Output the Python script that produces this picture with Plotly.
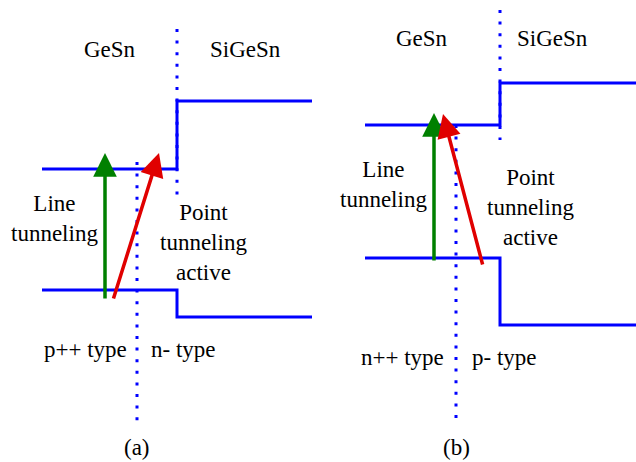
import plotly.graph_objects as go

# Coordinate frame: horizontal position / vertical (energy) position, y grows downward
# Panel (a)
a_band_x = [42, 177, 177, 312]
a_cond = [169, 169, 101, 101]
a_val = [290, 290, 317, 317]
a_iface_x = [177, 177]
a_iface_y = [29, 195]
a_junc_x = [137, 137]
a_junc_y = [162, 422]
a_green = dict(x0=105, y0=300, x1=105, y1=153)
a_red = dict(x0=113, y0=300, x1=159, y1=153)

# Panel (b)
b_band_x = [365, 500, 500, 636]
b_cond = [125, 125, 83, 83]
b_val = [258, 258, 325, 325]
b_iface_x = [500, 500]
b_iface_y = [10, 140]
b_junc_x = [456, 456]
b_junc_y = [125, 422]
b_green = dict(x0=434, y0=262, x1=434, y1=113)
b_red = dict(x0=483, y0=266, x1=443, y1=114)

labels = [
    ("GeSn", 110, 49), ("SiGeSn", 245, 49),
    ("Line<br>tunneling", 54, 218),
    ("Point<br>tunneling<br>active", 203, 242),
    ("p++ type", 85, 349), ("n- type", 183, 349), ("(a)", 137, 447),
    ("GeSn", 422, 38), ("SiGeSn", 552, 38),
    ("Line<br>tunneling", 383, 184),
    ("Point<br>tunneling<br>active", 530, 207),
    ("n++ type", 402, 357), ("p- type", 504, 357), ("(b)", 456, 447),
]

BLUE = "#0000ff"
fig = go.Figure()

def band(x, y):
    fig.add_trace(go.Scatter(x=x, y=y, mode="lines", line=dict(color=BLUE, width=3),
                             hoverinfo="skip", showlegend=False))

def dotted(x, y):
    fig.add_trace(go.Scatter(x=x, y=y, mode="lines",
                             line=dict(color=BLUE, width=3, dash="3px,8.6px"),
                             hoverinfo="skip", showlegend=False))

for xs, ys in [(a_iface_x, a_iface_y), (a_junc_x, a_junc_y),
               (b_iface_x, b_iface_y), (b_junc_x, b_junc_y)]:
    dotted(xs, ys)
for xs, ys in [(a_band_x, a_cond), (a_band_x, a_val), (b_band_x, b_cond), (b_band_x, b_val)]:
    band(xs, ys)

for arr, col in [(a_green, "#008000"), (a_red, "#e00000"), (b_green, "#008000"), (b_red, "#e00000")]:
    fig.add_annotation(x=arr["x1"], y=arr["y1"], ax=arr["x0"], ay=arr["y0"],
                       xref="x", yref="y", axref="x", ayref="y", text="",
                       showarrow=True, arrowhead=2, arrowsize=1.35, arrowwidth=3.5,
                       arrowcolor=col)

for txt, x, y in labels:
    fig.add_annotation(x=x, y=y, xref="x", yref="y", text=txt, showarrow=False,
                       font=dict(family="Liberation Serif", size=23, color="black"),
                       align="center", xanchor="center", yanchor="middle")

fig.update_layout(width=636, height=462, margin=dict(l=0, r=0, t=0, b=0),
                  plot_bgcolor="white", paper_bgcolor="white", showlegend=False)
fig.update_xaxes(range=[0, 636], visible=False, fixedrange=True)
fig.update_yaxes(range=[462, 0], visible=False, fixedrange=True)
fig.write_html("out.html")
